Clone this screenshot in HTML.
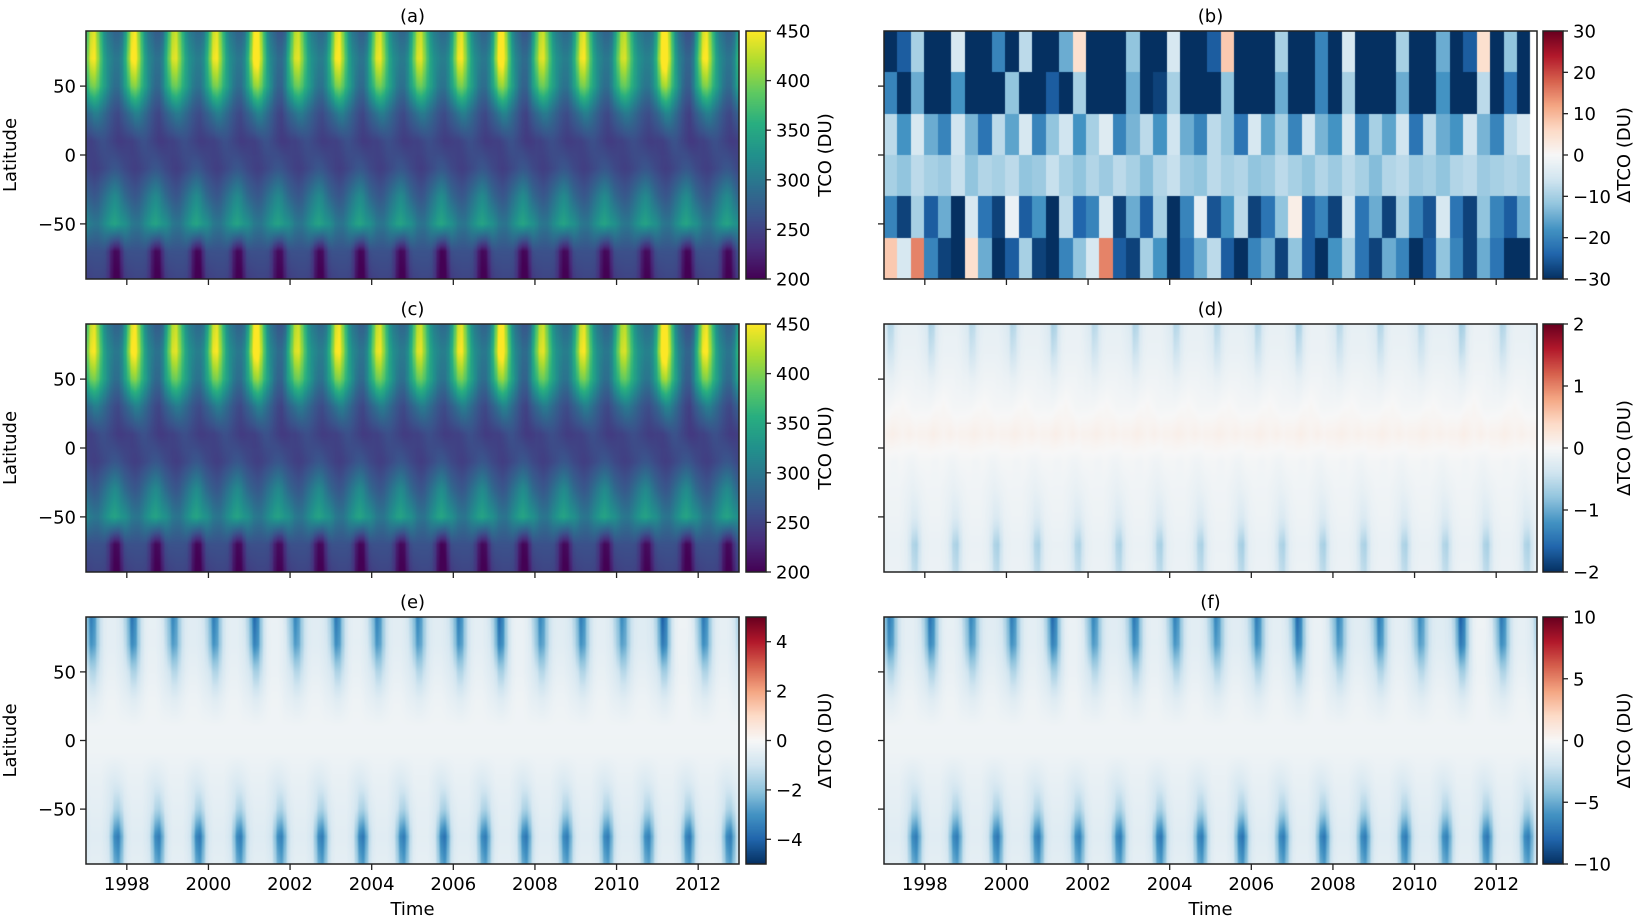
<!DOCTYPE html>
<html><head><meta charset="utf-8"><style>
body{margin:0;background:#fff;}
#wrap{position:relative;width:1639px;height:924px;overflow:hidden;}
canvas{position:absolute;}
svg{position:absolute;left:0;top:0;}
text{font-family:"DejaVu Sans","Liberation Sans",sans-serif;font-size:18px;fill:#000;}
</style></head><body>
<div id="wrap">
<svg id="ov" width="1639" height="924"></svg>
</div>
<script>
// ---------- data ----------
const latNodes=[90,70,50,30,10,-10,-30,-50,-70,-90];
const tcoClim=[
[380,430,440,400,360,320,300,290,280,280,290,330],
[400,445,450,415,375,340,320,310,300,300,315,355],
[365,395,400,385,360,340,320,300,290,290,310,340],
[285,295,305,305,295,285,275,265,258,255,265,275],
[248,248,252,256,260,260,256,252,248,244,244,246],
[252,248,246,248,252,256,260,265,267,265,260,255],
[278,272,268,272,282,292,302,312,318,312,298,286],
[315,302,298,298,308,320,330,340,345,338,330,325],
[262,262,262,262,262,260,245,220,205,208,235,258],
[248,250,252,252,252,250,238,212,198,198,220,242]];
const eClim=[
[-0.45,-0.7,-0.6,-0.35,-0.2,-0.12,-0.1,-0.1,-0.1,-0.12,-0.18,-0.3],
[-0.4,-0.6,-0.55,-0.35,-0.2,-0.12,-0.1,-0.1,-0.1,-0.12,-0.15,-0.25],
[-0.2,-0.3,-0.3,-0.22,-0.15,-0.1,-0.08,-0.08,-0.08,-0.1,-0.12,-0.15],
[-0.1,-0.12,-0.12,-0.1,-0.08,-0.06,-0.05,-0.05,-0.05,-0.06,-0.08,-0.09],
[-0.04,-0.04,-0.04,-0.04,-0.04,-0.04,-0.04,-0.04,-0.04,-0.04,-0.04,-0.04],
[-0.05,-0.05,-0.05,-0.05,-0.05,-0.05,-0.05,-0.05,-0.05,-0.05,-0.05,-0.05],
[-0.08,-0.08,-0.08,-0.08,-0.08,-0.1,-0.12,-0.14,-0.15,-0.14,-0.12,-0.1],
[-0.12,-0.1,-0.1,-0.1,-0.1,-0.12,-0.15,-0.2,-0.3,-0.32,-0.25,-0.15],
[-0.15,-0.12,-0.12,-0.12,-0.12,-0.15,-0.2,-0.4,-0.65,-0.7,-0.5,-0.25],
[-0.12,-0.1,-0.1,-0.1,-0.1,-0.12,-0.15,-0.3,-0.5,-0.55,-0.4,-0.2]];
const dClim=[
[-0.15,-0.3,-0.28,-0.15,-0.1,-0.08,-0.08,-0.08,-0.08,-0.08,-0.1,-0.12],
[-0.12,-0.22,-0.2,-0.12,-0.08,-0.07,-0.07,-0.07,-0.07,-0.07,-0.08,-0.1],
[-0.06,-0.08,-0.08,-0.06,-0.05,-0.04,-0.04,-0.04,-0.04,-0.05,-0.05,-0.06],
[-0.02,-0.02,-0.01,0.0,0.0,0.01,0.0,-0.01,-0.02,-0.02,-0.02,-0.02],
[0.04,0.05,0.06,0.05,0.04,0.03,0.04,0.05,0.04,0.03,0.04,0.04],
[-0.02,-0.02,-0.03,-0.03,-0.02,-0.02,-0.03,-0.04,-0.04,-0.03,-0.02,-0.02],
[-0.04,-0.04,-0.04,-0.04,-0.04,-0.05,-0.06,-0.07,-0.08,-0.07,-0.06,-0.05],
[-0.06,-0.05,-0.05,-0.05,-0.05,-0.06,-0.08,-0.1,-0.14,-0.14,-0.1,-0.07],
[-0.08,-0.07,-0.07,-0.07,-0.07,-0.08,-0.1,-0.18,-0.3,-0.32,-0.2,-0.1],
[-0.07,-0.06,-0.06,-0.06,-0.06,-0.07,-0.09,-0.14,-0.24,-0.26,-0.16,-0.09]];
const nhYear=[1.0,1.1,0.9,1.0,1.2,0.9,1.05,0.95,0.9,1.0,1.2,0.9,1.0,0.85,1.3,1.05];
const shYear=[1.0,1.0,1.05,1.0,0.95,1.0,1.05,1.0,1.1,1.0,1.05,1.0,1.0,0.95,1.05,1.0];
const bBands=[
[-30,-25,-10,-30,-30,-5,-30,-30,-20,-30,-8,-30,-30,-15,5,-30,-30,-30,-12,-30,-30,-5,-30,-30,-25,8,-30,-30,-30,-10,-30,-30,-20,-30,-5,-30,-30,-30,-10,-30,-30,-15,-30,-25,5,-30,-12,-30],
[-20,-30,-15,-30,-30,-18,-30,-30,-30,-12,-30,-30,-25,-30,-10,-30,-30,-30,-15,-30,-28,-10,-30,-30,-30,-12,-30,-30,-30,-15,-30,-30,-20,-30,-10,-30,-30,-30,-15,-30,-30,-18,-30,-30,-8,-30,-22,-30],
[-8,-18,-5,-15,-20,-6,-14,-22,-8,-16,-5,-20,-12,-6,-18,-10,-4,-20,-14,-8,-18,-6,-15,-20,-8,-12,-22,-5,-16,-10,-20,-6,-14,-18,-5,-20,-10,-16,-6,-22,-8,-15,-18,-6,-14,-20,-8,-5],
[-10,-12,-8,-10,-11,-7,-12,-9,-10,-8,-12,-11,-7,-10,-12,-9,-11,-8,-10,-13,-9,-7,-11,-12,-8,-10,-9,-12,-11,-8,-10,-12,-9,-11,-8,-10,-13,-9,-8,-11,-10,-12,-9,-8,-11,-10,-9,-10],
[-20,-28,-10,-25,-15,-30,-5,-22,-28,-2,-25,-18,-30,-8,-24,-20,-5,-28,-15,-25,-10,-30,-20,-3,-26,-18,-8,-28,-22,-12,2,-25,-20,-28,-6,-22,-15,-28,-10,-20,-26,-5,-22,-28,-12,-20,-25,-15],
[8,-5,15,-20,-28,-30,5,-15,-30,-25,-10,-28,-30,-20,-12,-5,15,-25,-28,-10,-18,-30,-22,-15,-8,-25,-30,-20,-15,-28,-12,-25,-30,-18,-10,-22,-28,-15,-20,-30,-25,-12,-20,-28,-15,-22,-30,-30]];
const xTicks=[1998,2000,2002,2004,2006,2008,2010,2012];
const yTicks=[50,0,-50];
// ---------- geometry ----------
const COLS=[{x0:86,x1:739,cb:746},{x0:884,x1:1537,cb:1543}];
const ROWS=[{y0:31,y1:279},{y0:324,y1:572},{y0:617,y1:864}];
const T0=1997,T1=2013;
const VIR=['#440154','#472d7b','#3b528b','#2c728e','#21918c','#28ae80','#5ec962','#addc30','#fde725'];
const RDBU=['#053061','#2166ac','#4393c3','#92c5de','#d1e5f0','#f7f7f7','#fddbc7','#f4a582','#d6604d','#b2182b','#67001f'];
function hex(h){return [parseInt(h.substr(1,2),16),parseInt(h.substr(3,2),16),parseInt(h.substr(5,2),16)];}
const VIRc=VIR.map(hex),RDc=RDBU.map(hex);
function cmap(stops,f){f=Math.max(0,Math.min(1,f));const n=stops.length-1;let i=Math.min(n-1,Math.floor(f*n));const u=f*n-i;const a=stops[i],b=stops[i+1];return [a[0]+(b[0]-a[0])*u,a[1]+(b[1]-a[1])*u,a[2]+(b[2]-a[2])*u];}
function field(clim,lat,yr,mul){
  const tm=(yr-T0)*12-0.5; let mi=Math.floor(tm), u=tm-mi;
  let li=0; while(li<latNodes.length-2&&lat<latNodes[li+1]) li++;
  const lu=(latNodes[li]-lat)/(latNodes[li]-latNodes[li+1]);
  const yi=Math.max(0,Math.min(15,Math.floor(yr-T0)));
  function at(row,m){const r=clim[row];const mm=((m%12)+12)%12;let mean=0;for(const v of r)mean+=v;mean/=12;const f=lat>0?nhYear[yi]:shYear[yi];return mean+(r[mm]-mean)*f;}
  const us=(1-Math.cos(Math.PI*u))/2;
  const v0=at(li,mi)*(1-us)+at(li,mi+1)*us, v1=at(li+1,mi)*(1-us)+at(li+1,mi+1)*us;
  return (v0*(1-lu)+v1*lu)*mul;
}
const wrap=document.getElementById('wrap');
function mkCanvas(x,y,w,h,name){const c=document.createElement('canvas');c.width=w;c.height=h;c.style.left=x+'px';c.style.top=y+'px';


wrap.insertBefore(c,wrap.firstChild);return c;}
function heat(col,row,name,fn,stops,vmin,vmax){
  const x0=COLS[col].x0,x1=COLS[col].x1,y0=ROWS[row].y0,y1=ROWS[row].y1,w=x1-x0,h=y1-y0;
  const c=mkCanvas(x0,y0,w,h,name);const ctx=c.getContext('2d');const img=ctx.createImageData(w,h);
  for(let j=0;j<h;j++){const lat=90-180*(j+0.5)/h;for(let i=0;i<w;i++){const yr=T0+(T1-T0)*(i+0.5)/w;const v=fn(lat,yr);const rgb=cmap(stops,(v-vmin)/(vmax-vmin));const k=(j*w+i)*4;img.data[k]=rgb[0];img.data[k+1]=rgb[1];img.data[k+2]=rgb[2];img.data[k+3]=255;}}
  ctx.putImageData(img,0,0);
}
heat(0,0,'heatmap-a-tco',(l,y)=>field(tcoClim,l,y,1),VIRc,200,450);
heat(0,1,'heatmap-c-tco',(l,y)=>field(tcoClim,l,y,1),VIRc,200,450);
heat(1,1,'heatmap-d-delta',(l,y)=>field(dClim,l,y,2),RDc,-2,2);
heat(0,2,'heatmap-e-delta',(l,y)=>field(eClim,l,y,5),RDc,-5,5);
heat(1,2,'heatmap-f-delta',(l,y)=>field(eClim,l,y,10),RDc,-10,10);
// panel b
(function(){const x0=COLS[1].x0,x1=COLS[1].x1,y0=ROWS[0].y0,y1=ROWS[0].y1,w=x1-x0,h=y1-y0;
const c=mkCanvas(x0,y0,w,h,'heatmap-b-delta');const ctx=c.getContext('2d');ctx.fillStyle='#fff';ctx.fillRect(0,0,w,h);
bBands.forEach((band,bi)=>{const n=band.length;band.forEach((v,k)=>{const xa=Math.round(w*k/n*0.99),xb=Math.round(w*(k+1)/n*0.99);const ya=Math.round(h*bi/6),yb=Math.round(h*(bi+1)/6);const rgb=cmap(RDc,(v+30)/60);ctx.fillStyle='rgb('+rgb.map(Math.round).join(',')+')';ctx.fillRect(xa,ya,xb-xa,yb-ya);});});})();
// colorbars
function cbar(col,row,stops,vmin,vmax,ticks,label){
  const x=COLS[col].cb,y0=ROWS[row].y0,y1=ROWS[row].y1,h=y1-y0;
  const c=mkCanvas(x,y0,20,h,'colorbar-'+'abcdef'[row*2+col]);const ctx=c.getContext('2d');
  for(let j=0;j<h;j++){const rgb=cmap(stops,1-(j+0.5)/h);ctx.fillStyle='rgb('+rgb.map(Math.round).join(',')+')';ctx.fillRect(0,j,20,1);}
  let s=`<rect x="${x}" y="${y0}" width="20" height="${h}" fill="none" stroke="#222" stroke-width="1.5"/>`;
  ticks.forEach(t=>{const yy=y1-(t-vmin)/(vmax-vmin)*h;s+=`<line x1="${x+20}" x2="${x+25}" y1="${yy}" y2="${yy}" stroke="#222" stroke-width="1.3"/><text x="${x+30}" y="${yy+6.5}">${String(t).replace('-','\u2212')}</text>`;});
  const cx=x+(col==0?85:87),cy=(y0+y1)/2;
  s+=`<text transform="translate(${cx},${cy}) rotate(-90)" text-anchor="middle">${label}</text>`;
  return s;
}
let svg='';
const titles=['(a)','(b)','(c)','(d)','(e)','(f)'];
for(let r=0;r<3;r++)for(let c=0;c<2;c++){
  const X0=COLS[c].x0,X1=COLS[c].x1,Y0=ROWS[r].y0,Y1=ROWS[r].y1;
  svg+=`<rect x="${X0}" y="${Y0}" width="${X1-X0}" height="${Y1-Y0}" fill="none" stroke="#222" stroke-width="1.5"/>`;
  svg+=`<text x="${(X0+X1)/2}" y="${Y0-9}" text-anchor="middle">${titles[r*2+c]}</text>`;
  xTicks.forEach(t=>{const xx=X0+(t-T0)/(T1-T0)*(X1-X0);svg+=`<line x1="${xx}" x2="${xx}" y1="${Y1}" y2="${Y1+6}" stroke="#222" stroke-width="1.3"/>`;
    if(r==2)svg+=`<text x="${xx}" y="${Y1+26}" text-anchor="middle">${t}</text>`;});
  yTicks.forEach(t=>{const yy=Y0+(90-t)/180*(Y1-Y0);svg+=`<line x1="${X0-6}" x2="${X0}" y1="${yy}" y2="${yy}" stroke="#222" stroke-width="1.3"/>`;
    if(c==0)svg+=`<text x="${X0-10}" y="${yy+6.5}" text-anchor="end">${String(t).replace('-','\u2212')}</text>`;});
  if(c==0)svg+=`<text transform="translate(16,${(Y0+Y1)/2}) rotate(-90)" text-anchor="middle">Latitude</text>`;
  if(r==2)svg+=`<text x="${(X0+X1)/2}" y="${Y1+51}" text-anchor="middle">Time</text>`;
}
svg+=cbar(0,0,VIRc,200,450,[200,250,300,350,400,450],'TCO (DU)');
svg+=cbar(0,1,VIRc,200,450,[200,250,300,350,400,450],'TCO (DU)');
svg+=cbar(1,0,RDc,-30,30,[-30,-20,-10,0,10,20,30],'\u0394TCO (DU)');
svg+=cbar(1,1,RDc,-2,2,[-2,-1,0,1,2],'\u0394TCO (DU)');
svg+=cbar(0,2,RDc,-5,5,[-4,-2,0,2,4],'\u0394TCO (DU)');
svg+=cbar(1,2,RDc,-10,10,[-10,-5,0,5,10],'\u0394TCO (DU)');
document.getElementById('ov').innerHTML=svg;
</script>
</body></html>
